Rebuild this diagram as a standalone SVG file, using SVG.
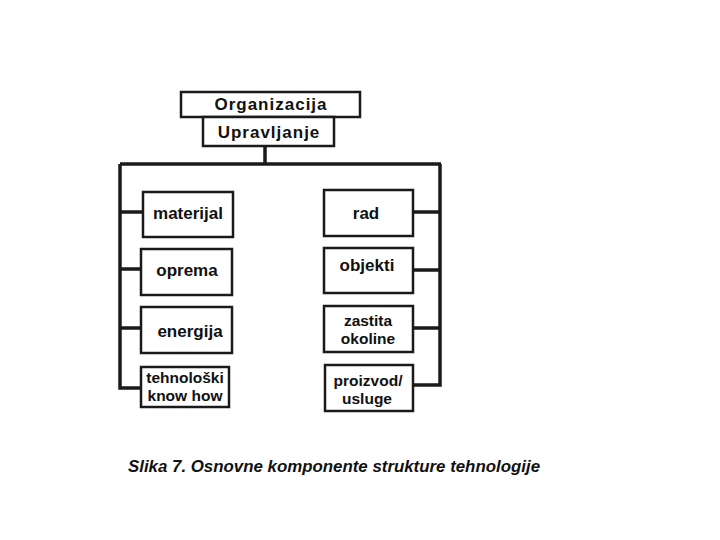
<svg xmlns="http://www.w3.org/2000/svg" width="720" height="540" viewBox="0 0 720 540">
<style>
.box{fill:#fff;stroke:#1a1a1a;stroke-width:2.5}
.lbl{font-family:"Liberation Sans",Arial,sans-serif;font-weight:bold;font-size:17px;fill:#111;text-anchor:middle}
.two{font-size:15.5px}
.top{font-size:17px;letter-spacing:1px}
.con{fill:none;stroke:#1a1a1a;stroke-width:3.5}
.cap{font-family:"Liberation Sans",Arial,sans-serif;font-weight:bold;font-style:italic;font-size:16px;fill:#111}
</style>
<rect width="720" height="540" fill="#fff"/>
<g id="connectors">
<path class="con" d="M265,146 V164 M120,164 H441 M120,164 V388 H141 M440,164 V385 H413"/>
<path class="con" d="M120,212 H143 M120,269 H141 M120,328 H141"/>
<path class="con" d="M440,212 H413 M440,270 H413 M440,328 H413"/>
</g>
<g id="organizacija"><rect class="box" x="181" y="92" width="179" height="25"/><text class="lbl top" x="271" y="110">Organizacija</text></g>
<g id="upravljanje"><rect class="box" x="203" y="117" width="131" height="29"/><text class="lbl top" x="269" y="138">Upravljanje</text></g>
<g id="materijal"><rect class="box" x="143" y="192" width="90" height="45"/><text class="lbl" x="188" y="219">materijal</text></g>
<g id="oprema"><rect class="box" x="141" y="249" width="91" height="46"/><text class="lbl" x="187" y="276">oprema</text></g>
<g id="energija"><rect class="box" x="141" y="307" width="91" height="46"/><text class="lbl" x="190" y="337">energija</text></g>
<g id="tehnoloski"><rect class="box" x="141" y="367" width="88" height="40"/><text class="lbl two" x="185" y="383">tehnološki</text><text class="lbl two" x="185" y="401">know how</text></g>
<g id="rad"><rect class="box" x="324" y="190" width="89" height="46"/><text class="lbl" x="366" y="219">rad</text></g>
<g id="objekti"><rect class="box" x="324" y="248" width="89" height="45"/><text class="lbl" x="367" y="271">objekti</text></g>
<g id="zastita"><rect class="box" x="324" y="306" width="89" height="46"/><text class="lbl two" x="368" y="326">zastita</text><text class="lbl two" x="368" y="344">okoline</text></g>
<g id="proizvod"><rect class="box" x="325" y="365" width="88" height="46"/><text class="lbl two" x="368" y="386">proizvod/</text><text class="lbl two" x="367" y="404">usluge</text></g>
<text class="cap" x="128" y="472" textLength="412" lengthAdjust="spacingAndGlyphs">Slika 7. Osnovne komponente strukture tehnologije</text>
</svg>
